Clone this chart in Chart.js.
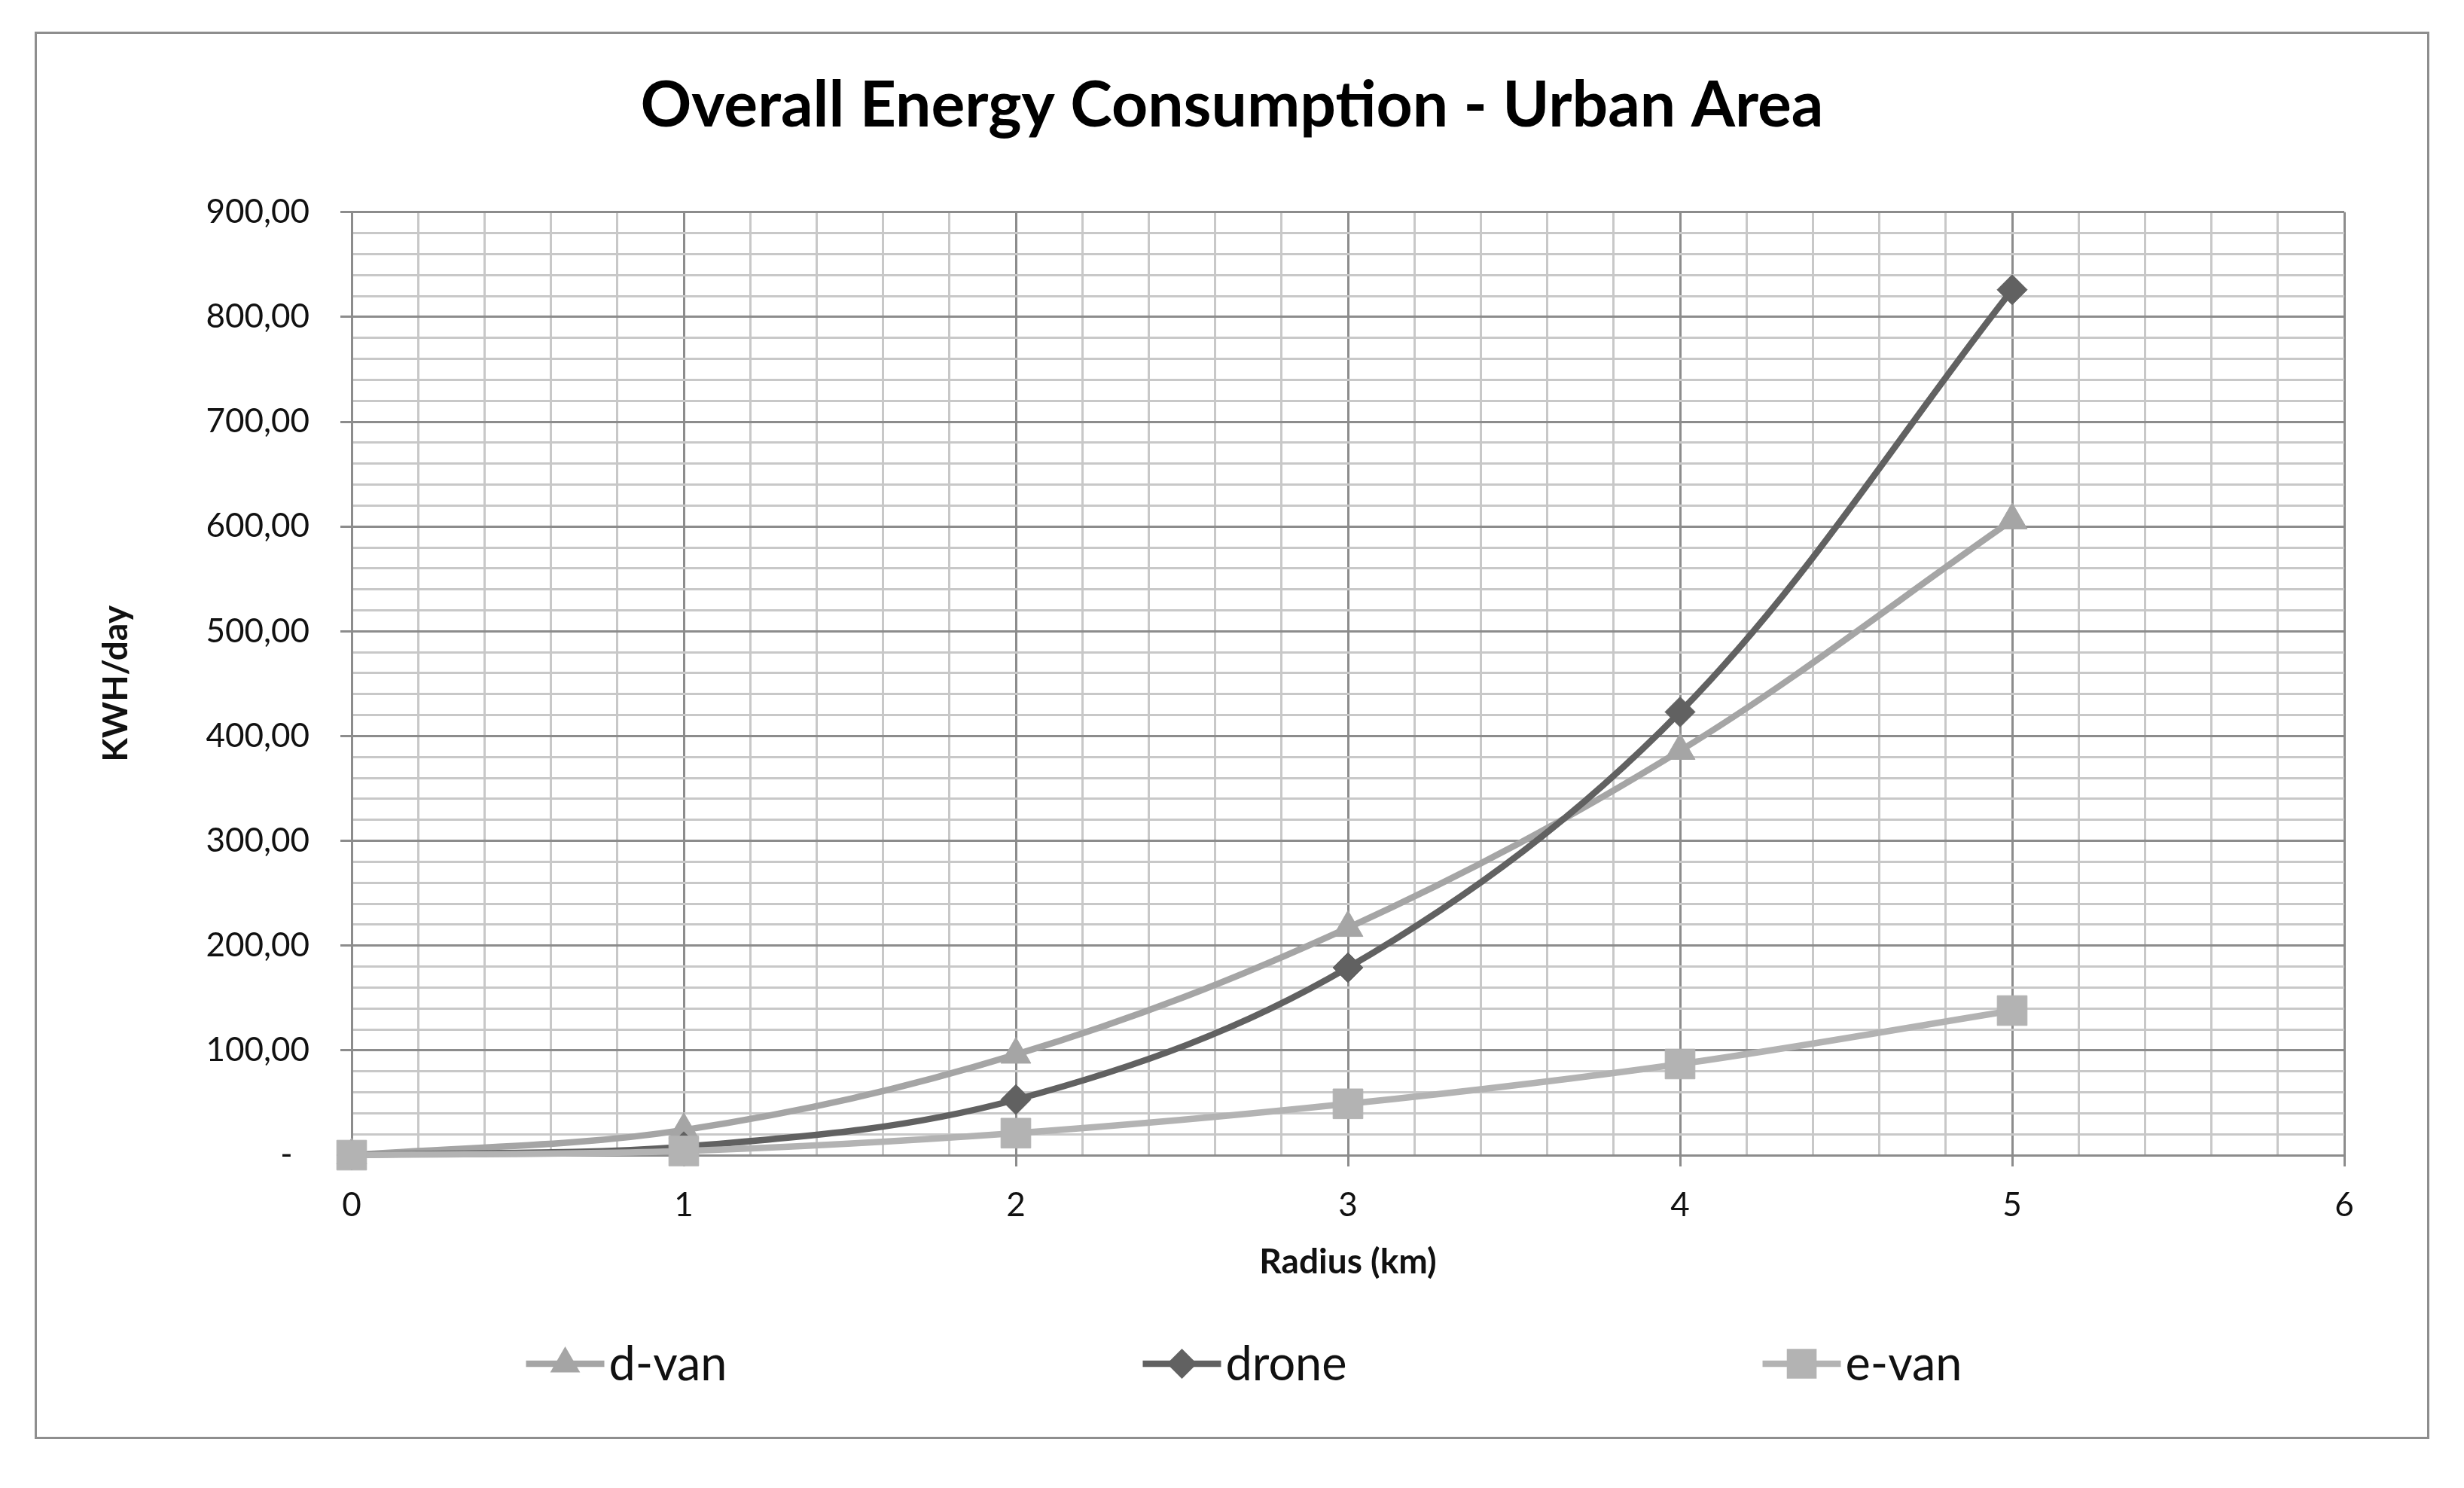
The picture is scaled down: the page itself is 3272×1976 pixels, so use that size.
<!DOCTYPE html>
<html>
<head>
<meta charset="utf-8">
<title>Overall Energy Consumption - Urban Area</title>
<style>
  body {
    margin: 0;
    background-color: #FFF;
  }

  #frame {
    position: absolute;
    left: 46px;
    top: 42px;
    width: 3180px;
    height: 1869px;
    box-sizing: border-box;
    border: 3px solid #8E8E8E;
    background-color: #FFF;
  }
</style>
</head>
<body>
<div id="frame"><canvas id="chart"></canvas></div>

<script src="https://cdn.jsdelivr.net/npm/chart.js@4/dist/chart.umd.min.js"></script>
<script>
  // values
  var radius = [0, 1, 2, 3, 4, 5];
  var dVan = [0, 24, 96, 217, 386, 606];
  var drone = [0, 8, 53, 179, 423, 826];
  var eVan = [0, 4, 21, 49, 87, 138];

  var seriesNames = ['d-van', 'drone', 'e-van'];
  var seriesValues = [dVan, drone, eVan];
  var seriesColors = ['#A5A5A5', '#616161', '#B3B3B3'];
  var markerStyles = ['triangle', 'rectRot', 'rect'];
  var markerSizes = [23, 20, 28];

  var xMax = 6;
  var yMax = 900;

  var majorColor = '#8C8C8C';
  var minorColor = '#C8C8C8';
  var textColor = '#111';
  var lineWidth = 8.5;

  function isWhole(v) {
    return Math.abs(v - Math.round(v)) < 1e-6;
  }

  function isHundred(v) {
    return Math.abs(v / 100 - Math.round(v / 100)) < 1e-6;
  }

  // Excel accounting style: 100,00 and a dash for zero
  function formatKwh(v) {
    if (Math.abs(v) < 1e-9) return '-  ';
    return v.toFixed(2).replace('.', ',');
  }

  function toPoints(values) {
    return values.map(function(v, i) { return { x: radius[i], y: v }; });
  }

  // draws one marker shape the same way Chart.js does
  function drawMarker(ctx, style, r, x, y) {
    ctx.beginPath();
    if (style === 'triangle') {
      ctx.moveTo(x, y - r);
      ctx.lineTo(x + r * 0.866, y + r / 2);
      ctx.lineTo(x - r * 0.866, y + r / 2);
    } else if (style === 'rectRot') {
      ctx.moveTo(x - r, y);
      ctx.lineTo(x, y - r);
      ctx.lineTo(x + r, y);
      ctx.lineTo(x, y + r);
    } else {
      var s = r * Math.SQRT1_2;
      ctx.rect(x - s, y - s, 2 * s, 2 * s);
    }
    ctx.closePath();
    ctx.fill();
  }

  // legend like Excel: short line with the marker in the middle, items spread out
  var legendLine = 104;
  var legendTextGap = 6;
  var legendGap = 552;

  var lineLegend = {
    id: 'lineLegend',
    afterDraw: function(chart) {
      var ctx = chart.ctx;
      ctx.save();
      ctx.font = '63px Lato';
      ctx.textBaseline = 'middle';
      ctx.textAlign = 'left';

      var widths = seriesNames.map(function(n) {
        return legendLine + legendTextGap + ctx.measureText(n).width;
      });
      var total = widths.reduce(function(a, b) { return a + b; }, 0) + legendGap * (seriesNames.length - 1);
      var x = chart.width / 2 + 16 - total / 2;
      var y = chart.chartArea.bottom + 277;

      for (var i = 0; i < seriesNames.length; i++) {
        ctx.strokeStyle = seriesColors[i];
        ctx.fillStyle = seriesColors[i];
        ctx.lineWidth = lineWidth;
        ctx.beginPath();
        ctx.moveTo(x, y);
        ctx.lineTo(x + legendLine, y);
        ctx.stroke();
        drawMarker(ctx, markerStyles[i], markerSizes[i], x + legendLine / 2, y);

        ctx.fillStyle = textColor;
        ctx.fillText(seriesNames[i], x + legendLine + legendTextGap, y + 2);
        x += widths[i] + legendGap;
      }
      ctx.restore();
    }
  };

  function createChart() {
    var datasets = seriesNames.map(function(name, i) {
      return {
        label: name,
        data: toPoints(seriesValues[i]),
        borderColor: seriesColors[i],
        backgroundColor: seriesColors[i],
        borderWidth: lineWidth,
        tension: 0.35,
        pointStyle: markerStyles[i],
        pointRadius: markerSizes[i],
        pointBorderWidth: 1,
        pointBorderColor: seriesColors[i],
        pointBackgroundColor: seriesColors[i],
        clip: false,
        order: seriesNames.length - i
      };
    });

    new Chart(document.getElementById('chart'), {
      type: 'line',
      data: { datasets: datasets },
      options: {
        responsive: true,
        maintainAspectRatio: false,
        animation: false,
        layout: { padding: 0 },
        plugins: {
          legend: { display: false },
          tooltip: { enabled: false },
          title: {
            display: true,
            text: 'Overall Energy Consumption - Urban Area',
            color: '#000',
            font: { family: 'Lato', size: 84, weight: 'bold' },
            padding: { top: 46, bottom: 90 }
          }
        },
        scales: {
          x: {
            type: 'linear',
            min: 0,
            max: xMax,
            afterFit: function(scale) { scale.height = 374; },
            border: { color: majorColor, width: 3 },
            grid: {
              lineWidth: 3,
              tickLength: 15,
              tickWidth: 3,
              color: function(c) { return isWhole(c.tick.value) ? majorColor : minorColor; },
              tickColor: function(c) { return isWhole(c.tick.value) ? majorColor : 'rgba(0,0,0,0)'; }
            },
            ticks: {
              stepSize: 0.2,
              maxTicksLimit: 100,
              autoSkip: false,
              maxRotation: 0,
              padding: 25,
              color: textColor,
              font: { family: 'Lato', size: 44 },
              callback: function(v) { return isWhole(v) ? String(Math.round(v)) : ''; }
            },
            title: {
              display: true,
              text: 'Radius (km)',
              color: textColor,
              font: { family: 'Lato', size: 46, weight: 'bold' },
              padding: { top: 0, bottom: 204 }
            }
          },
          y: {
            min: 0,
            max: yMax,
            afterFit: function(scale) { scale.width = 418; },
            border: { color: majorColor, width: 3 },
            grid: {
              lineWidth: 3,
              tickLength: 15,
              tickWidth: 3,
              color: function(c) { return isHundred(c.tick.value) ? majorColor : minorColor; },
              tickColor: function(c) { return isHundred(c.tick.value) ? majorColor : 'rgba(0,0,0,0)'; }
            },
            ticks: {
              stepSize: 20,
              maxTicksLimit: 100,
              autoSkip: false,
              padding: 41,
              color: textColor,
              font: { family: 'Lato', size: 44 },
              callback: function(v) { return isHundred(v) ? formatKwh(v) : ''; }
            },
            title: {
              display: true,
              text: 'KWH/day',
              color: textColor,
              font: { family: 'Lato', size: 46, weight: 'bold' },
              padding: { top: 78, bottom: 0 }
            }
          },
          // empty strip on the right so the plot ends where Excel's does
          spacer: {
            position: 'right',
            display: true,
            afterFit: function(scale) { scale.width = 110; },
            grid: { display: false },
            border: { display: false },
            ticks: { display: false }
          }
        }
      },
      plugins: [lineLegend]
    });
  }

  Promise.all([
    document.fonts.load('bold 84px Lato'),
    document.fonts.load('44px Lato')
  ]).then(createChart, createChart);
</script>
</body>
</html>
